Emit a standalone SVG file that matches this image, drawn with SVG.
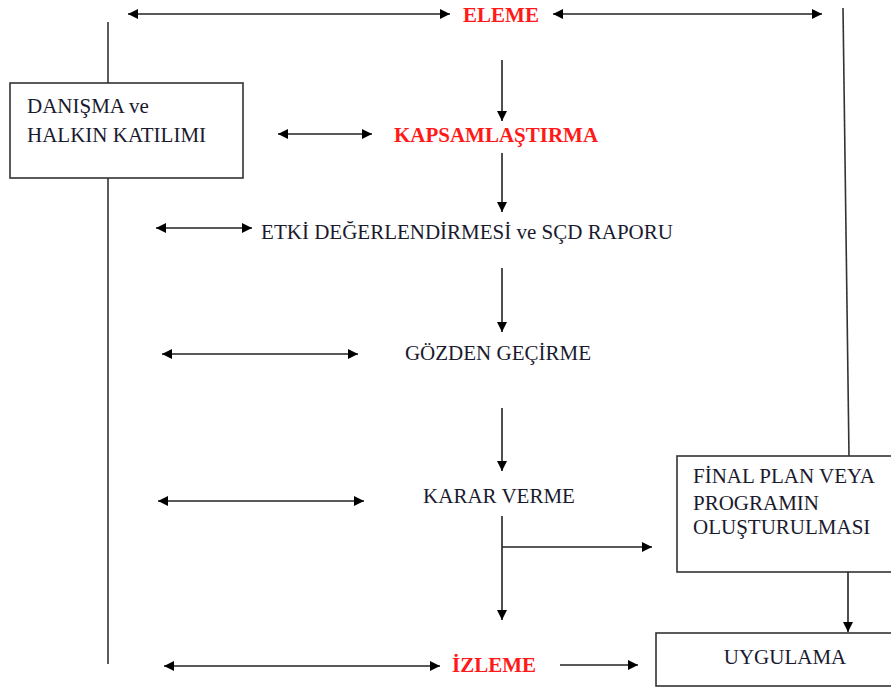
<svg xmlns="http://www.w3.org/2000/svg" width="891" height="689" viewBox="0 0 891 689">
<defs>
<marker id="ah" viewBox="0 0 10 10" refX="10" refY="5" markerWidth="11" markerHeight="10" markerUnits="userSpaceOnUse" orient="auto-start-reverse">
<path d="M0,0 L10,5 L0,10 z" fill="#000"/>
</marker>
<style>
.t{font-family:"Liberation Serif","Times New Roman",serif;font-size:21px;fill:#1a1a2e}
.r{font-family:"Liberation Serif","Times New Roman",serif;font-size:21px;font-weight:bold;fill:#ff1a1a}
.l{stroke:#333;stroke-width:1.6;fill:none}
.a{stroke:#222;stroke-width:1.6;fill:none;marker-end:url(#ah)}
.d{stroke:#222;stroke-width:1.6;fill:none;marker-end:url(#ah);marker-start:url(#ah)}
.b{fill:#fff;stroke:#333;stroke-width:1.6}
</style>
</defs>
<rect width="891" height="689" fill="#fff"/>
<g id="connectors">
<line class="d" x1="128" y1="14" x2="450" y2="14"/>
<line class="d" x1="553" y1="14" x2="822" y2="14"/>
<line class="l" x1="108" y1="22" x2="108" y2="83"/>
<line class="l" x1="108" y1="178" x2="108" y2="664"/>
<line class="l" x1="843" y1="8" x2="849" y2="456"/>
<line class="a" x1="502" y1="60" x2="502" y2="121"/>
<line class="d" x1="278" y1="134" x2="372" y2="134"/>
<line class="a" x1="502" y1="153" x2="502" y2="212"/>
<line class="d" x1="156" y1="228" x2="252" y2="228"/>
<line class="a" x1="502" y1="268" x2="502" y2="332"/>
<line class="d" x1="162" y1="354" x2="358" y2="354"/>
<line class="a" x1="502" y1="408" x2="502" y2="471"/>
<line class="d" x1="158" y1="501" x2="364" y2="501"/>
<line class="a" x1="502" y1="516" x2="502" y2="620"/>
<line class="a" x1="502" y1="547" x2="652" y2="547"/>
<line class="a" x1="848" y1="572" x2="848" y2="632"/>
<line class="d" x1="164" y1="666" x2="440" y2="666"/>
<line class="a" x1="560" y1="665" x2="638" y2="665"/>
</g>
<g id="eleme"><text class="r" x="501" y="22" text-anchor="middle">ELEME</text></g>
<g id="danisma">
<rect class="b" x="10" y="83" width="233" height="95"/>
<text class="t" x="27" y="113">DANIŞMA ve</text>
<text class="t" x="27" y="142">HALKIN KATILIMI</text>
</g>
<g id="kapsam"><text class="r" x="496" y="142" text-anchor="middle">KAPSAMLAŞTIRMA</text></g>
<g id="etki"><text class="t" x="467" y="239" text-anchor="middle">ETKİ DEĞERLENDİRMESİ ve SÇD RAPORU</text></g>
<g id="gozden"><text class="t" x="498" y="360" text-anchor="middle">GÖZDEN GEÇİRME</text></g>
<g id="karar"><text class="t" x="499" y="503" text-anchor="middle">KARAR VERME</text></g>
<g id="final">
<rect class="b" x="677" y="456" width="220" height="116"/>
<text class="t" x="693" y="483">FİNAL PLAN VEYA</text>
<text class="t" x="693" y="510">PROGRAMIN</text>
<text class="t" x="693" y="534">OLUŞTURULMASI</text>
</g>
<g id="uygulama">
<rect class="b" x="656" y="633" width="240" height="53"/>
<text class="t" x="785" y="664" text-anchor="middle">UYGULAMA</text>
</g>
<g id="izleme"><text class="r" x="494" y="672" text-anchor="middle">İZLEME</text></g>
</svg>
